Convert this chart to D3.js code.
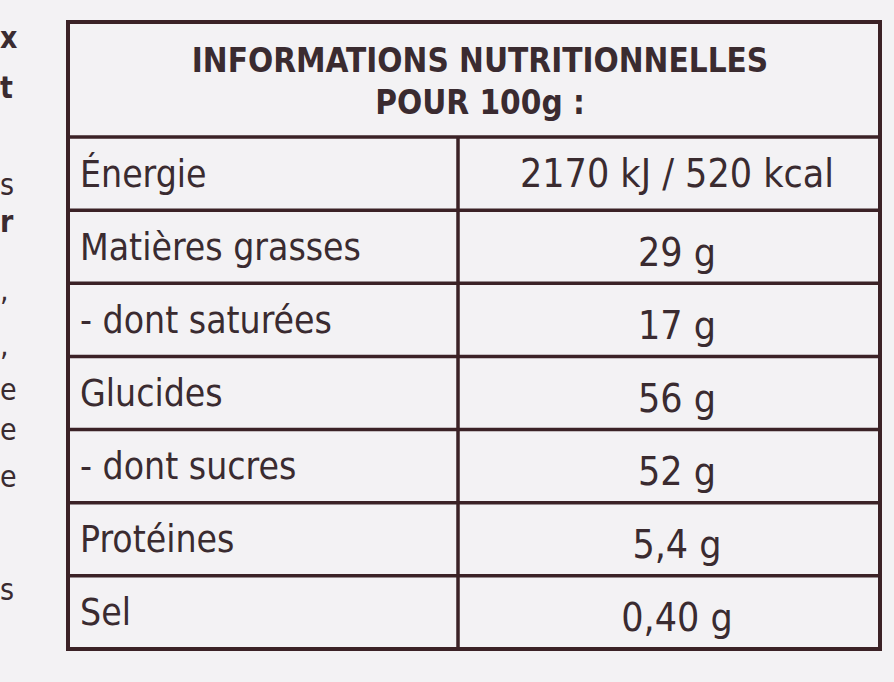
<!DOCTYPE html>
<html>
<head>
<meta charset="utf-8">
<script src="https://cdn.jsdelivr.net/npm/d3@7"></script>
<style>
  body { margin: 0; background: #f3f2f4; }
  svg { display: block; }
</style>
</head>
<body>
<div id="chart"></div>
<script>
const title = ['INFORMATIONS NUTRITIONNELLES', 'POUR 100g :'];
const nutrients = ['Énergie', 'Matières grasses', '- dont saturées', 'Glucides', '- dont sucres', 'Protéines', 'Sel'];
const amounts = ['2170 kJ / 520 kcal', '29 g', '17 g', '56 g', '52 g', '5,4 g', '0,40 g'];
// cut-off letters from the neighbouring text column
const marginBits = [['x', 48, true], ['t', 98, true], ['s', 195, false], ['r', 232, true], [',', 300, false],
  [',', 355, false], ['e', 400, false], ['e', 440, false], ['e', 487, false], ['s', 600, false]];

const width = 894, height = 682;
const INK = '#3b2226', TEXT = '#3a2b30';
const boxLeft = 68, boxRight = 880, boxTop = 22, headBottom = 137, boxBottom = 649, mid = 458;

const svg = d3.select('#chart').append('svg')
  .attr('width', width).attr('height', height);

svg.append('rect').attr('width', width).attr('height', height).attr('fill', '#f3f2f4');

const y = d3.scaleBand().domain(nutrients).range([headBottom, boxBottom]);

// margin fragments
svg.selectAll('.bit').data(marginBits).enter().append('text')
  .attr('x', 0).attr('y', d => d[1])
  .attr('font-family', 'DejaVu Sans Condensed, sans-serif')
  .attr('font-size', 30).attr('font-weight', d => d[2] ? 700 : 400)
  .attr('fill', TEXT).text(d => d[0]);

// header
svg.selectAll('.title').data(title).enter().append('text')
  .attr('x', (boxLeft + boxRight) / 2 + 6).attr('y', (d, i) => 72 + i * 42)
  .attr('text-anchor', 'middle')
  .attr('font-family', 'DejaVu Sans Condensed, sans-serif')
  .attr('font-size', 33).attr('font-weight', 700)
  .attr('fill', TEXT).text(d => d);

// rows
const rows = svg.selectAll('.row').data(nutrients).enter().append('g');
rows.append('line')
  .attr('x1', boxLeft).attr('x2', boxRight)
  .attr('y1', d => y(d)).attr('y2', d => y(d))
  .attr('stroke', INK).attr('stroke-width', 3.5);
rows.append('text')
  .attr('x', boxLeft + 12).attr('y', d => y(d) + y.bandwidth() / 2 + 13)
  .attr('font-family', 'DejaVu Sans Condensed, sans-serif')
  .attr('font-size', 37).attr('fill', TEXT)
  .text(d => d);
rows.append('text')
  .attr('x', (mid + boxRight) / 2 + 8).attr('y', (d, i) => y(d) + y.bandwidth() / 2 + 13 + (i > 0 ? 6 : 0))
  .attr('text-anchor', 'middle')
  .attr('font-family', 'DejaVu Sans Condensed, sans-serif')
  .attr('font-size', 39).attr('fill', TEXT)
  .text((d, i) => amounts[i]);

// column divider and frame
svg.append('line')
  .attr('x1', mid).attr('x2', mid).attr('y1', headBottom).attr('y2', boxBottom)
  .attr('stroke', INK).attr('stroke-width', 3.5);
svg.append('rect')
  .attr('x', boxLeft).attr('y', boxTop).attr('width', boxRight - boxLeft).attr('height', boxBottom - boxTop)
  .attr('fill', 'none').attr('stroke', INK).attr('stroke-width', 4);
</script>
</body>
</html>
